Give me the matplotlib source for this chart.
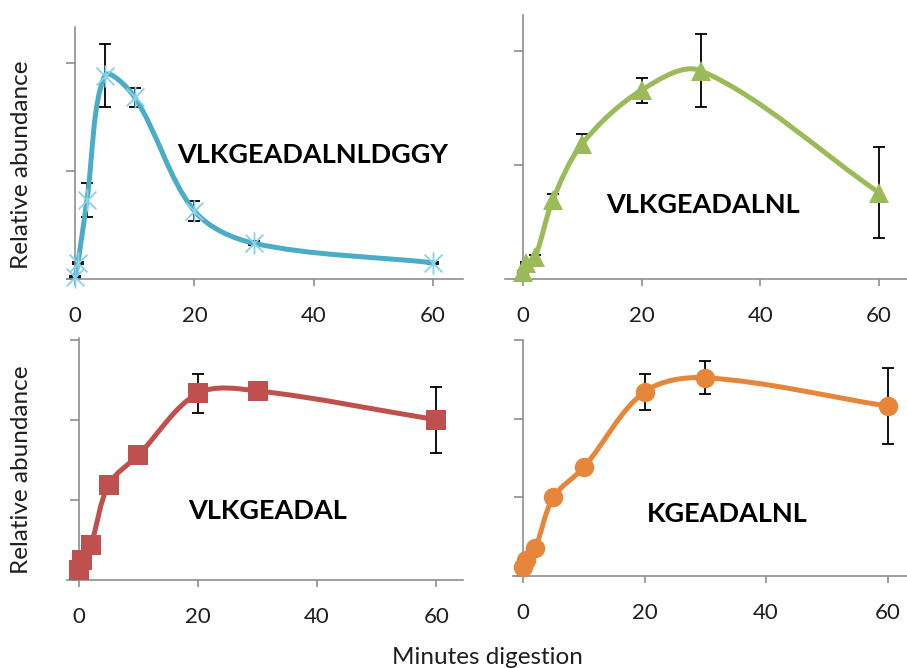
import numpy as np
import matplotlib
matplotlib.use('Agg')
import matplotlib.pyplot as plt
from matplotlib.path import Path
from matplotlib.patches import PathPatch

plt.rcParams['font.family'] = ['Lato', 'DejaVu Sans']

W, H = 907, 668

# sampling times (minutes) shared by all four peptides
minutes = [0, 0.5, 2, 5, 10, 20, 30, 60]

peptides = ['VLKGEADALNLDGGY', 'VLKGEADALNL', 'VLKGEADAL', 'KGEADALNL']

abund_1 = [0.02, 0.15, 0.73, 1.88, 1.68, 0.63, 0.33, 0.15]
err_1 = [0.01, 0.01, 0.16, 0.29, 0.09, 0.09, 0.02, 0.01]

abund_2 = [0.06, 0.14, 0.19, 0.69, 1.19, 1.66, 1.83, 0.76]
err_2 = [0.01, 0.01, 0.02, 0.06, 0.08, 0.11, 0.32, 0.40]

abund_3 = [0.12, 0.25, 0.44, 1.19, 1.56, 2.33, 2.36, 2.00]
err_3 = [0.01, 0.01, 0.02, 0.03, 0.03, 0.24, 0.02, 0.41]

abund_4 = [0.11, 0.20, 0.35, 1.00, 1.38, 2.34, 2.52, 2.16]
err_4 = [0.01, 0.01, 0.02, 0.03, 0.03, 0.23, 0.21, 0.48]

# asterisk-like marker: vertical bar plus an X
star = Path([(0, -1), (0, 1), (-0.8, -0.8), (0.8, 0.8), (-0.8, 0.8), (0.8, -0.8)],
            [Path.MOVETO, Path.LINETO] * 3)


def smooth_path(ax, x, y):
    """Bezier path through the points, smoothed in screen space.
    Tangent lengths are weighted by the neighbouring segment lengths
    so short segments don't overshoot."""
    pts = ax.transData.transform(np.column_stack([x, y]))
    n = len(pts)
    verts = [pts[0]]
    codes = [Path.MOVETO]
    for i in range(n - 1):
        p0 = pts[max(i - 1, 0)]
        p1 = pts[i]
        p2 = pts[i + 1]
        p3 = pts[min(i + 2, n - 1)]
        d01 = np.hypot(*(p1 - p0))
        d12 = np.hypot(*(p2 - p1))
        d23 = np.hypot(*(p3 - p2))
        c1 = p1 + (p2 - p0) * d12 / (d01 + d12) / 3
        c2 = p2 - (p3 - p1) * d12 / (d12 + d23) / 3
        verts += [c1, c2, p2]
        codes += [Path.CURVE4] * 3
    verts = ax.transData.inverted().transform(np.array(verts))
    return Path(verts, codes)


def make_axes(fig, left, right, top, bottom, xlim, ytop):
    ax = fig.add_axes([left / W, 1 - bottom / H, (right - left) / W, (bottom - top) / H])
    ax.set_xlim(*xlim)
    ax.set_ylim(0, ytop)
    for s in ['top', 'right']:
        ax.spines[s].set_visible(False)
    ax.spines['left'].set_position(('data', 0))
    for s in ['left', 'bottom']:
        ax.spines[s].set_color('#8f8f8f')
        ax.spines[s].set_linewidth(1.2)
    ax.set_xticks([0, 20, 40, 60])
    ax.set_yticks([v for v in [0, 1, 2, 3] if v <= ytop])
    ax.set_yticklabels([])
    ax.tick_params(axis='x', direction='out', length=5, width=1.2, color='#8f8f8f',
                   pad=14.5, labelsize=16, labelcolor='#1e1e1e')
    ax.tick_params(axis='y', direction='out', length=6.5, width=1.2, color='#8f8f8f')
    ax.patch.set_visible(False)
    return ax


def draw_series(ax, y, err, color, marker, mcolor, msize, mew=0):
    ax.errorbar(minutes, y, yerr=err, fmt='none', ecolor='black', elinewidth=1.3,
                capsize=4.3, capthick=1.3, zorder=2, clip_on=False)
    ax.add_patch(PathPatch(smooth_path(ax, minutes, y), fill=False, edgecolor=color,
                           lw=3.6, capstyle='round', joinstyle='round', zorder=3,
                           clip_on=False))
    if mew:
        ax.plot(minutes, y, ls='none', marker=marker, ms=msize, mec=mcolor,
                mew=mew, zorder=4, clip_on=False)
    else:
        ax.plot(minutes, y, ls='none', marker=marker, ms=msize, mfc=mcolor,
                mec=mcolor, mew=0, zorder=4, clip_on=False)


fig = plt.figure(figsize=(W / 100, H / 100), dpi=100)

ax1 = make_axes(fig, 67, 463, 27, 279, (-1.34, 65.0), 2.33)
ax2 = make_axes(fig, 505, 915, 15, 279, (-3.04, 66.1), 2.32)
ax3 = make_axes(fig, 67, 463, 338, 580, (-2.0, 64.5), 3.02)
ax4 = make_axes(fig, 513, 915, 340, 576, (-1.64, 64.5), 3.0)

draw_series(ax1, abund_1, err_1, '#4bacc6', star, '#86d2e8', 16, mew=1.3)
draw_series(ax2, abund_2, err_2, '#9bbb59', '^', '#9bbb59', 15)
draw_series(ax3, abund_3, err_3, '#c0504d', 's', '#c0504d', 14)
draw_series(ax4, abund_4, err_4, '#e5863a', 'o', '#e5863a', 14)

# peptide names inside each panel
label_pos = [(313, 155), (703, 205), (268, 511), (727, 514)]
for name, (px, py) in zip(peptides, label_pos):
    fig.text(px / W, 1 - py / H, name, ha='center', va='center',
             fontsize=19.5, fontweight='bold', color='black')

for py in [165, 470]:
    fig.text(22 / W, 1 - py / H, 'Relative abundance', rotation=90, ha='center',
             va='center', fontsize=17.5, color='#1e1e1e')

fig.text(487 / W, 1 - 657 / H, 'Minutes digestion', ha='center', va='center',
         fontsize=17.5, color='#1e1e1e')

fig.savefig('out.png', dpi=100)
